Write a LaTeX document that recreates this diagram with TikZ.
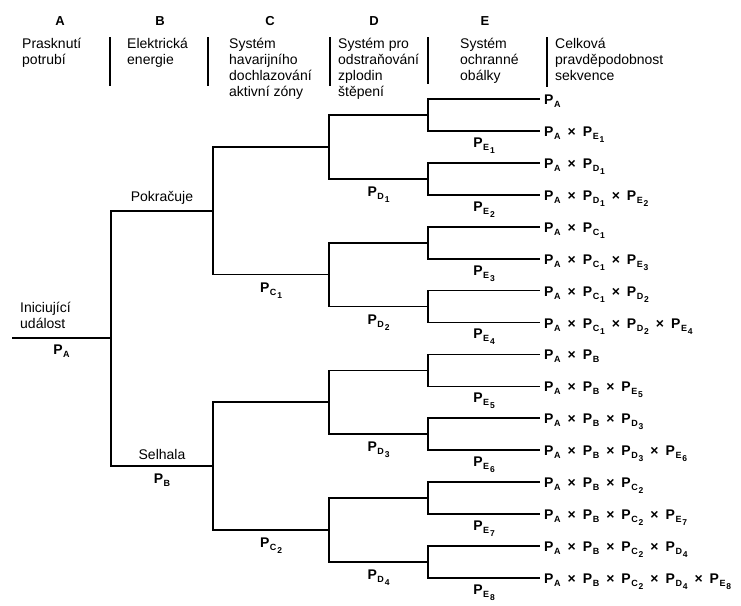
\documentclass[tikz,border=0pt]{standalone}
\usepackage{fontspec}
\setmainfont{Liberation Sans}
\newcommand\PSa[1]{P\kern0.6pt\raisebox{-3pt}{\fontsize{9}{9}\selectfont #1}}
\newcommand\PSb[2]{P\kern0.6pt\raisebox{-3pt}{\fontsize{9}{9}\selectfont #1\kern0.8pt\raisebox{-3pt}{\fontsize{8.5}{8.5}\selectfont #2}}}
\newcommand\tx{\hspace{7pt}×\hspace{7pt}}
\begin{document}
\begin{tikzpicture}[x=1pt,y=-1pt,
  hdr/.style={align=left, anchor=north west, inner sep=0pt, font=\fontsize{14}{16}\selectfont},
  letter/.style={inner sep=0pt, font=\bfseries\fontsize{13}{13}\selectfont},
  sepline/.style={line width=1.3pt},
  branch/.style={line width=1.7pt},
  lbl/.style={inner sep=1pt, font=\fontsize{14}{16}\selectfont},
  plbl/.style={inner sep=1pt, font=\bfseries\fontsize{14}{14}\selectfont},
  term/.style={anchor=west, inner xsep=4pt, inner ysep=0pt, text height=11pt, text depth=0pt, font=\bfseries\fontsize{14}{14}\selectfont}]
\useasboundingbox (0,0) rectangle (741,605);

% column letters
\node[letter] (hA) at (60,21) {A};
\node[letter] (hB) at (160,21) {B};
\node[letter] (hC) at (270,21) {C};
\node[letter] (hD) at (374,21) {D};
\node[letter] (hE) at (485,21) {E};

% column headings
\node[hdr] (tA) at (22,37.5) {Prasknutí\\potrubí};
\node[hdr] (tB) at (127,37.5) {Elektrická\\energie};
\node[hdr] (tC) at (229,37.5) {Systém\\havarijního\\dochlazování\\aktivní zóny};
\node[hdr] (tD) at (338,37.5) {Systém pro\\odstraňování\\zplodin\\štěpení};
\node[hdr] (tE) at (460,37.5) {Systém\\ochranné\\obálky};
\node[hdr] (tF) at (555,37.5) {Celková\\pravděpodobnost\\sekvence};

% separators
\draw[sepline] (110,37) -- (110,86);
\draw[sepline] (208,37) -- (208,86);
\draw[sepline] (330,37) -- (330,86);
\draw[sepline] (428,37) -- (428,84);
\draw[sepline] (547,37) -- (547,87);

% tree points
\coordinate (s) at (12,338);
\coordinate (a) at (111,338);
\coordinate (b1) at (213,210.8);
\coordinate (b2) at (213,466.2);
\coordinate (c1) at (329,146.9);
\coordinate (c2) at (329,274.6);
\coordinate (c3) at (329,402.3);
\coordinate (c4) at (329,530.1);
\coordinate (d1) at (428,115);
\coordinate (d2) at (428,178.8);
\coordinate (d3) at (428,242.7);
\coordinate (d4) at (428,306.6);
\coordinate (d5) at (428,370.4);
\coordinate (d6) at (428,434.3);
\coordinate (d7) at (428,498.2);
\coordinate (d8) at (428,562);

% sequence results
\node[term] (t1)  at (540,99)    {\PSa{A}};
\node[term] (t2)  at (540,130.9) {\PSa{A}\tx\PSb{E}{1}};
\node[term] (t3)  at (540,162.9) {\PSa{A}\tx\PSb{D}{1}};
\node[term] (t4)  at (540,194.8) {\PSa{A}\tx\PSb{D}{1}\tx\PSb{E}{2}};
\node[term] (t5)  at (540,226.7) {\PSa{A}\tx\PSb{C}{1}};
\node[term] (t6)  at (540,258.7) {\PSa{A}\tx\PSb{C}{1}\tx\PSb{E}{3}};
\node[term] (t7)  at (540,290.6) {\PSa{A}\tx\PSb{C}{1}\tx\PSb{D}{2}};
\node[term] (t8)  at (540,322.5) {\PSa{A}\tx\PSb{C}{1}\tx\PSb{D}{2}\tx\PSb{E}{4}};
\node[term] (t9)  at (540,354.4) {\PSa{A}\tx\PSa{B}};
\node[term] (t10) at (540,386.4) {\PSa{A}\tx\PSa{B}\tx\PSb{E}{5}};
\node[term] (t11) at (540,418.3) {\PSa{A}\tx\PSa{B}\tx\PSb{D}{3}};
\node[term] (t12) at (540,450.2) {\PSa{A}\tx\PSa{B}\tx\PSb{D}{3}\tx\PSb{E}{6}};
\node[term] (t13) at (540,482.2) {\PSa{A}\tx\PSa{B}\tx\PSb{C}{2}};
\node[term] (t14) at (540,514.1) {\PSa{A}\tx\PSa{B}\tx\PSb{C}{2}\tx\PSb{E}{7}};
\node[term] (t15) at (540,546)   {\PSa{A}\tx\PSa{B}\tx\PSb{C}{2}\tx\PSb{D}{4}};
\node[term] (t16) at (540,578)   {\PSa{A}\tx\PSa{B}\tx\PSb{C}{2}\tx\PSb{D}{4}\tx\PSb{E}{8}};

% initiating event
\node[hdr, anchor=south west] (init) at (20,329) {Iniciující\\událost};
\draw[branch] (s) -- node[plbl, below=5pt] (lA) {\PSa{A}} (a);

% level B
\draw[branch] (a) |- node[lbl, pos=.75, above=5pt] (lok) {Pokračuje} (b1);
\draw[branch] (a) |- node[lbl, pos=.75, above=5pt] (lfail) {Selhala}
                     node[plbl, pos=.75, below=6pt] (lB) {\PSa{B}} (b2);
% level C
\draw[branch] (b1) |- (c1);
\draw[branch] (b1) |- node[plbl, pos=.75, below=6pt] (lC1) {\PSb{C}{1}} (c2);
\draw[branch] (b2) |- (c3);
\draw[branch] (b2) |- node[plbl, pos=.75, below=6pt] (lC2) {\PSb{C}{2}} (c4);
% level D
\draw[branch] (c1) |- (d1);
\draw[branch] (c1) |- node[plbl, pos=.75, below=6pt] (lD1) {\PSb{D}{1}} (d2);
\draw[branch] (c2) |- (d3);
\draw[branch] (c2) |- node[plbl, pos=.75, below=6pt] (lD2) {\PSb{D}{2}} (d4);
\draw[branch] (c3) |- (d5);
\draw[branch] (c3) |- node[plbl, pos=.75, below=6pt] (lD3) {\PSb{D}{3}} (d6);
\draw[branch] (c4) |- (d7);
\draw[branch] (c4) |- node[plbl, pos=.75, below=6pt] (lD4) {\PSb{D}{4}} (d8);
% level E
\draw[branch] (d1) |- (t1.west);
\draw[branch] (d1) |- node[plbl, pos=.75, below=5pt] (lE1) {\PSb{E}{1}} (t2.west);
\draw[branch] (d2) |- (t3.west);
\draw[branch] (d2) |- node[plbl, pos=.75, below=5pt] (lE2) {\PSb{E}{2}} (t4.west);
\draw[branch] (d3) |- (t5.west);
\draw[branch] (d3) |- node[plbl, pos=.75, below=5pt] (lE3) {\PSb{E}{3}} (t6.west);
\draw[branch] (d4) |- (t7.west);
\draw[branch] (d4) |- node[plbl, pos=.75, below=5pt] (lE4) {\PSb{E}{4}} (t8.west);
\draw[branch] (d5) |- (t9.west);
\draw[branch] (d5) |- node[plbl, pos=.75, below=5pt] (lE5) {\PSb{E}{5}} (t10.west);
\draw[branch] (d6) |- (t11.west);
\draw[branch] (d6) |- node[plbl, pos=.75, below=5pt] (lE6) {\PSb{E}{6}} (t12.west);
\draw[branch] (d7) |- (t13.west);
\draw[branch] (d7) |- node[plbl, pos=.75, below=5pt] (lE7) {\PSb{E}{7}} (t14.west);
\draw[branch] (d8) |- (t15.west);
\draw[branch] (d8) |- node[plbl, pos=.75, below=5pt] (lE8) {\PSb{E}{8}} (t16.west);
\end{tikzpicture}
\end{document}
